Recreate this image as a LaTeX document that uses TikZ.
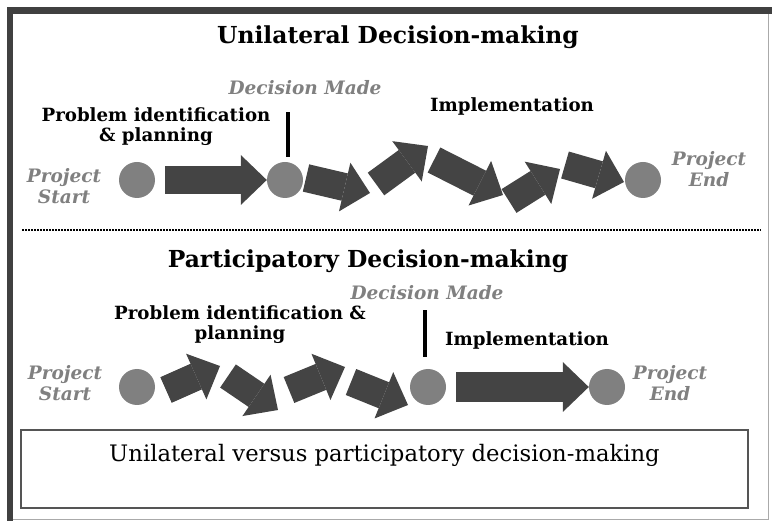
\documentclass[tikz,border=0pt]{standalone}
\usepackage{fontspec}
\setmainfont{DejaVu Serif}
\usetikzlibrary{arrows.meta,positioning}

\begin{document}
\begin{tikzpicture}[x=1pt,y=-1pt,
  blockarrow/.style={draw=arrowColor, line width=28pt,
    -{Triangle[length=26pt,width=50pt,line width=0pt]}},
  stage/.style={circle, fill=stageColor, minimum size=36pt, inner sep=0pt},
  heading/.style={font=\fontsize{23.4}{26}\selectfont\bfseries},
  phase/.style={font=\fontsize{18.2}{20}\selectfont\bfseries, align=center},
  marker/.style={font=\fontsize{18.5}{20.5}\selectfont\bfseries\itshape,
    text=labelColor, align=center},
  decisionbar/.style={line width=3.5pt, black},
  dotline/.style={line width=1.6pt, dash pattern=on 2pt off 1pt}]
% Colors
\definecolor{frameColor}{RGB}{64,64,64}
\definecolor{edgeColor}{RGB}{170,170,170}
\definecolor{arrowColor}{RGB}{68,68,68}
\definecolor{stageColor}{RGB}{128,128,128}
\definecolor{labelColor}{RGB}{128,128,128}
\definecolor{boxColor}{RGB}{85,85,85}
\useasboundingbox (0,0) rectangle (772,521);
% Frame
\begin{scope}[frameColor]
	\draw[line width=6.5pt] (10,521) % bottom left
	  -- (10,10.5)                   % top left
	  -- (772,10.5);                 % top right
\end{scope}
\draw[edgeColor, thin] (768,14) -- (768,519) -- (13,519);
% Unilateral
\node[heading] (title1) at (398,37) {Unilateral Decision-making};
\node[stage] (s1) at (137,180) {};
\node[stage] (d1) at (285,180) {};
\node[stage] (e1) at (643,180) {};
\node[marker] (ps1) at (64,186) {Project\\Start};
\node[marker] (pe1) at (709,169) {Project\\End};
\node[marker] (dm1) at (305,88) {Decision Made};
\node[phase] (pi1) at (156,127) {Problem identification\\\& planning};
\node[phase] (im1) at (512,106) {Implementation};
\draw[decisionbar] ([xshift=3pt,yshift=5pt]d1.north) -- ++(0,-45);
\draw[blockarrow] ([xshift=10pt]s1.east) -- (d1.west);
\foreach \ax/\ay/\bx/\by in {306/178/370/193, % after decision
                             376/184/428/146,
                             434/160/503/195,
                             509/201/560/169,
                             565/165/624/182}  % into end
  \draw[blockarrow] (\ax,\ay) -- (\bx,\by);
% Divider
\draw[dotline] (22,230) -- (761,230);
% Participatory
\node[heading] (title2) at (368,261) {Participatory Decision-making};
\node[stage] (s2) at (137,387) {};
\node[stage] (d2) at (428,387) {};
\node[stage] (e2) at (607,387) {};
\node[marker] (ps2) at (65,383) {Project\\Start};
\node[marker] (pe2) at (670,383) {Project\\End};
\node[marker] (dm2) at (427,293) {Decision Made};
\node[phase] (pi2) at (240,325) {Problem identification \&\\planning};
\node[phase] (im2) at (527,340) {Implementation};
\draw[decisionbar] ([xshift=-3pt,yshift=12pt]d2.north) -- ++(0,-47);
\foreach \ax/\ay/\bx/\by in {166/390/220/366, % after start
                             228/376/278/410,
                             289/390/345/367,
                             351/382/408/405}  % into decision
  \draw[blockarrow] (\ax,\ay) -- (\bx,\by);
\draw[blockarrow, line width=30pt] ([xshift=10pt]d2.east) -- (e2.west);
% Caption box
\node[draw=boxColor, line width=1.6pt, minimum width=727pt, minimum height=78pt,
      inner sep=0pt] (capbox) at (384.5,469) {};
\node[font=\fontsize{22.7}{26}\selectfont, below=12pt of capbox.north] (caption)
  {Unilateral versus participatory decision-making};
\end{tikzpicture}
\end{document}
